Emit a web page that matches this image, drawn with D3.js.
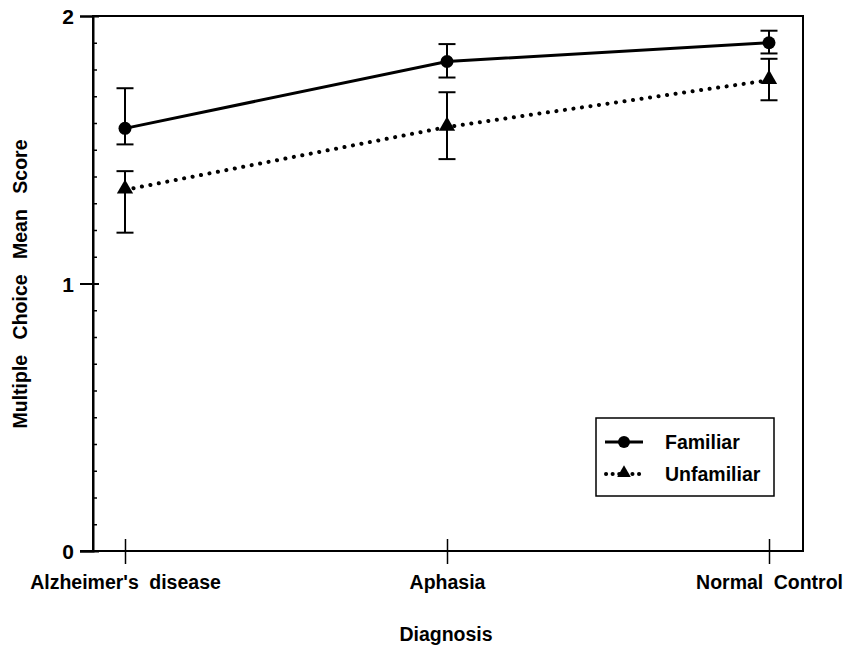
<!DOCTYPE html>
<html>
<head>
<meta charset="utf-8">
<script src="https://cdn.jsdelivr.net/npm/d3@7/dist/d3.min.js"></script>
<style>
  body { margin: 0; background: #fff; }
  text { font-family: "Liberation Sans", Arial, sans-serif; font-weight: bold; fill: #000; }
</style>
</head>
<body>
<svg id="chart" width="847" height="645"></svg>
<script>
// data
let categories = ["Alzheimer's disease", "Aphasia", "Normal Control"];
let familiar = [1.58, 1.83, 1.90];
let familiarHi = [1.73, 1.895, 1.945];
let familiarLo = [1.52, 1.77, 1.86];
let unfamiliar = [1.35, 1.585, 1.76];
let unfamiliarHi = [1.42, 1.715, 1.84];
let unfamiliarLo = [1.19, 1.465, 1.685];
let yTicks = [0, 1, 2];

let svg = d3.select("#chart");
let mLeft = 93, mTop = 16, mRight = 803, mBottom = 551;

let x = d3.scalePoint().domain(categories).range([125, 769]);
let y = d3.scaleLinear().domain([0, 2]).range([mBottom, mTop]);

// frame (top and right)
svg.append("rect")
  .attr("x", mLeft).attr("y", mTop)
  .attr("width", mRight - mLeft).attr("height", mBottom - mTop)
  .attr("fill", "none").attr("stroke", "#000").attr("stroke-width", 2);

// left axis, major ticks outward
let yAxis = svg.append("g")
  .attr("transform", "translate(" + mLeft + ",0)")
  .call(d3.axisLeft(y).tickValues(yTicks).tickSize(13).tickFormat(d3.format("d")));
yAxis.select(".domain").attr("stroke-width", 2);
yAxis.selectAll(".tick line").attr("stroke-width", 2).attr("x2", -13).attr("x1", 6);
yAxis.selectAll(".tick text").attr("font-size", 21).attr("x", -19).attr("dy", "0.36em");

// minor ticks inward
let yMinor = svg.append("g")
  .attr("transform", "translate(" + mLeft + ",0)")
  .call(d3.axisRight(y).tickValues(d3.range(1, 20).map(d => d / 10)).tickSize(4).tickFormat(""));
yMinor.select(".domain").remove();
yMinor.selectAll(".tick line").attr("stroke-width", 1.5);

// bottom axis, ticks crossing the line
let xAxis = svg.append("g")
  .attr("transform", "translate(0," + mBottom + ")")
  .call(d3.axisBottom(x).tickSize(13).tickSizeOuter(0));
xAxis.select(".domain").remove();
svg.append("line").attr("x1", 80).attr("x2", mRight)
  .attr("y1", mBottom).attr("y2", mBottom).attr("stroke", "#000").attr("stroke-width", 2);
xAxis.selectAll(".tick line").attr("y1", -12).attr("stroke-width", 1.5);
xAxis.selectAll(".tick text").attr("font-size", 19.5).attr("y", 38).attr("dy", 0)
  .attr("word-spacing", 5);

// axis titles
svg.append("text")
  .attr("transform", "translate(27," + 284 + ") rotate(-90)")
  .attr("text-anchor", "middle").attr("font-size", 19.5)
  .attr("word-spacing", 10)
  .text("Multiple Choice Mean Score");
svg.append("text")
  .attr("x", 446).attr("y", 641)
  .attr("text-anchor", "middle").attr("font-size", 19.5)
  .text("Diagnosis");

// error bars
function errorBars(hi, lo) {
  let g = svg.append("g").attr("stroke", "#000").attr("stroke-width", 2);
  categories.forEach((c, i) => {
    g.append("line").attr("x1", x(c)).attr("x2", x(c)).attr("y1", y(hi[i])).attr("y2", y(lo[i]));
    g.append("line").attr("x1", x(c) - 8.5).attr("x2", x(c) + 8.5).attr("y1", y(hi[i])).attr("y2", y(hi[i]));
    g.append("line").attr("x1", x(c) - 8.5).attr("x2", x(c) + 8.5).attr("y1", y(lo[i])).attr("y2", y(lo[i]));
  });
}
errorBars(familiarHi, familiarLo);
errorBars(unfamiliarHi, unfamiliarLo);

let line = d3.line().x((d, i) => x(categories[i])).y(d => y(d));

svg.append("path").datum(familiar)
  .attr("d", line).attr("fill", "none").attr("stroke", "#000").attr("stroke-width", 3);
svg.append("path").datum(unfamiliar)
  .attr("d", line).attr("fill", "none").attr("stroke", "#000").attr("stroke-width", 4)
  .attr("stroke-linecap", "round").attr("stroke-dasharray", "0.1 8.5");

svg.selectAll(".fam").data(familiar).enter().append("circle")
  .attr("cx", (d, i) => x(categories[i])).attr("cy", d => y(d)).attr("r", 6.5).attr("fill", "#000");
let tri = d3.symbol().type(d3.symbolTriangle).size(115);
svg.selectAll(".unf").data(unfamiliar).enter().append("path")
  .attr("d", tri).attr("fill", "#000")
  .attr("transform", (d, i) => "translate(" + x(categories[i]) + "," + (y(d) - 1) + ")");

// legend
let lg = svg.append("g");
lg.append("rect").attr("x", 596).attr("y", 418).attr("width", 178).attr("height", 78)
  .attr("fill", "#fff").attr("stroke", "#000").attr("stroke-width", 1.5);
lg.append("line").attr("x1", 605).attr("x2", 643).attr("y1", 442).attr("y2", 442)
  .attr("stroke", "#000").attr("stroke-width", 3);
lg.append("circle").attr("cx", 624).attr("cy", 442).attr("r", 6).attr("fill", "#000");
lg.append("line").attr("x1", 606).attr("x2", 643).attr("y1", 474).attr("y2", 474)
  .attr("stroke", "#000").attr("stroke-width", 4).attr("stroke-linecap", "round")
  .attr("stroke-dasharray", "0.1 6.5");
lg.append("path").attr("d", d3.symbol().type(d3.symbolTriangle).size(80)).attr("fill", "#000")
  .attr("transform", "translate(624,473)");
lg.append("text").attr("x", 665).attr("y", 449).attr("font-size", 19.5).text("Familiar");
lg.append("text").attr("x", 665).attr("y", 481).attr("font-size", 19.5).text("Unfamiliar");
</script>
</body>
</html>
